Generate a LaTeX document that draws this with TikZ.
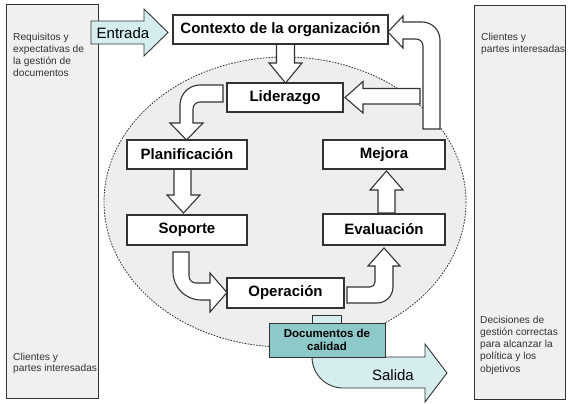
\documentclass[tikz,border=0pt]{standalone}
\usepackage{fontspec}
\newfontfamily\arialf{Liberation Sans}
\definecolor{sidegray}{HTML}{F0F0F0}
\definecolor{ellgray}{HTML}{EEEEEE}
\definecolor{lightcyan}{HTML}{D5EDEF}
\definecolor{docteal}{HTML}{8EC9C9}
\definecolor{edge}{HTML}{333333}
\begin{document}
\begin{tikzpicture}[x=1pt,y=-1pt,
  sidebox/.style={draw=edge, line width=1pt, fill=sidegray, inner sep=0},
  sidetxt/.style={anchor=base west, inner sep=0, font=\arialf\fontsize{10.2}{12}\selectfont, text=black!80},
  stepbox/.style={draw=edge, line width=1.1pt, fill=white, minimum height=29pt, inner sep=0, font=\arialf\bfseries\fontsize{15}{17}\selectfont},
  blockarrow/.style={draw=edge, line width=1.1pt, fill=white, line join=miter},
  ioarrow/.style={draw=edge, line width=0.9pt, fill=lightcyan, line join=miter},
  iotxt/.style={inner sep=0, font=\arialf\fontsize{15}{18}\selectfont},
]
\useasboundingbox (0,0) rectangle (571,404);
% side panels
\node[sidebox, minimum width=92pt, minimum height=393pt] (leftpanel) at (52,201.5) {};
\node[sidebox, minimum width=91pt, minimum height=393pt] (rightpanel) at (519.5,202.5) {};
\node[sidetxt] (l1) at (13,41) {Requisitos y};
\node[sidetxt] (l2) at (13,52.8) {expectativas de};
\node[sidetxt] (l3) at (13,64.6) {la gestión de};
\node[sidetxt] (l4) at (13,76.4) {documentos};
\node[sidetxt] (l5) at (13,360) {Clientes y};
\node[sidetxt] (l6) at (13,371.7) {partes interesadas};
\node[sidetxt] (r1) at (481,40.7) {Clientes y};
\node[sidetxt] (r2) at (481,52.4) {partes interesadas};
\node[sidetxt] (r3) at (480,323.3) {Decisiones de};
\node[sidetxt] (r4) at (480,335.5) {gestión correctas};
\node[sidetxt] (r5) at (480,347.7) {para alcanzar la};
\node[sidetxt] (r6) at (480,359.9) {política y los};
\node[sidetxt] (r7) at (480,372.1) {objetivos};
% ellipse
\draw[draw=edge, line width=0.8pt, fill=ellgray, dash pattern=on 1.6pt off 1.3pt] (285,202) ellipse [x radius=181, y radius=145];
% Entrada
\draw[ioarrow] (91,21) -- (144,21) -- (144,9) -- (168,32.5) -- (144,56) -- (144,44) -- (91,44) -- cycle;
\node[iotxt] (entrada) at (123,33) {Entrada};
% block arrows
\draw[blockarrow] (276.5,44) -- (294.5,44) -- (294.5,63) -- (302,63) -- (285.5,83) -- (269,63) -- (276.5,63) -- cycle;
\draw[blockarrow] (420,88.5) -- (420,104) -- (363,104) -- (363,113) -- (345,97.5) -- (363,81.5) -- (363,88.5) -- cycle;
\draw[blockarrow] (423,129) -- (440,129) -- (440,40) arc[start angle=0, end angle=-90, radius=18] -- (403,22) -- (403,16) -- (388,32) -- (403,48) -- (403,39) -- (416,39) arc[start angle=-90, end angle=0, radius=7] -- cycle;
\draw[blockarrow] (223,85) -- (200,85) arc[start angle=-90, end angle=-180, radius=20] -- (180,123) -- (170,123) -- (186.5,140) -- (203,123) -- (193,123) -- (193,109) arc[start angle=180, end angle=270, radius=7] -- (223,102) -- cycle;
\draw[blockarrow] (174,169) -- (191,169) -- (191,195) -- (200,195) -- (183.5,213) -- (167,195) -- (174,195) -- cycle;
\draw[blockarrow] (173,252) -- (173,272) arc[start angle=180, end angle=90, radius=28] -- (210,300) -- (210,312) -- (227,292.5) -- (210,273) -- (210,283) -- (196,283) arc[start angle=90, end angle=180, radius=7] -- (189,252) -- cycle;
\draw[blockarrow] (347,287) -- (347,303) -- (377,303) arc[start angle=90, end angle=0, radius=16] -- (393,266) -- (400,266) -- (384,248) -- (368,266) -- (375,266) -- (375,282) arc[start angle=0, end angle=90, radius=5] -- cycle;
\draw[blockarrow] (378,213) -- (395,213) -- (395,190) -- (403,190) -- (386.5,171) -- (370,190) -- (378,190) -- cycle;
% step boxes
\node[stepbox, minimum width=215pt] (ctx) at (280.5,29.5) {Contexto de la organización};
\node[stepbox, minimum width=116pt] (lid) at (285,97.5) {Liderazgo};
\node[stepbox, minimum width=120pt] (plan) at (187,154.5) {Planificación};
\node[stepbox, minimum width=122pt] (mej) at (384,154.5) {Mejora};
\node[stepbox, minimum width=120pt, minimum height=30pt] (sop) at (187,230) {Soporte};
\node[stepbox, minimum width=122pt, minimum height=31pt] (eval) at (384,229.5) {Evaluación};
\node[stepbox, minimum width=117pt, minimum height=30pt] (oper) at (285.5,293) {Operación};
% Salida
\draw[ioarrow] (312,340) -- (312,357) arc[start angle=180, end angle=90, radius=31] -- (425,388) -- (425,402) -- (447,373) -- (425,344) -- (425,357) -- (330,357) -- cycle;
\node[iotxt] (salida) at (393,375) {Salida};
% Documentos de calidad
\node[draw=edge, line width=0.8pt, fill=lightcyan, minimum width=29pt, minimum height=9pt, inner sep=0] (tab) at (326.5,320) {};
\node[draw=edge, line width=1pt, fill=docteal, minimum width=116pt, minimum height=34pt, inner sep=0, align=center, font=\arialf\bfseries\fontsize{11.5}{13}\selectfont] (doc) at (327,340) {Documentos de\\calidad};
\end{tikzpicture}
\end{document}
